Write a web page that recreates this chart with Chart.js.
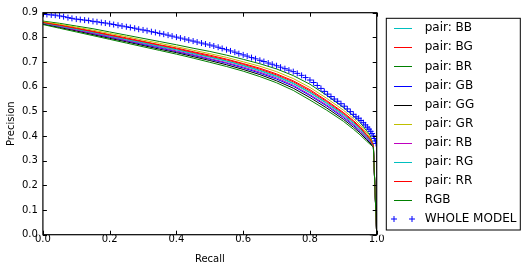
<!DOCTYPE html>
<html>
<head>
<meta charset="utf-8">
<script src="https://cdn.jsdelivr.net/npm/chart.js@4.4.1/dist/chart.umd.min.js"></script>
<style>
html,body{margin:0;padding:0;background:#fff;}
#wrap{width:524px;height:271px;}
</style>
</head>
<body>
<div id="wrap"><canvas id="c" width="524" height="271"></canvas></div>
<script>
// ---- data ----
const xTicks = [0.0, 0.2, 0.4, 0.6, 0.8, 1.0];
const yTicks = [0.0, 0.1, 0.2, 0.3, 0.4, 0.5, 0.6, 0.7, 0.8, 0.9];

const recall = [0, .05, .1, .15, .2, .25, .3, .35, .4, .45, .5, .55, .6, .65, .7, .75, .8, .85, .9, .93, .95, .97, .98, .99, 1.0];

const pairBB = [.859,.847,.834,.821,.807,.793,.779,.765,.751,.736,.721,.705,.687,.667,.644,.615,.578,.535,.488,.455,.430,.400,.385,.360,0];
const pairBG = [.861,.850,.838,.825,.811,.798,.784,.770,.757,.742,.728,.712,.694,.675,.652,.624,.588,.544,.496,.463,.438,.406,.390,.362,0];
const pairBR = [.866,.857,.846,.835,.822,.809,.796,.783,.770,.756,.743,.728,.711,.693,.672,.645,.610,.565,.516,.482,.455,.421,.403,.365,0];
const pairGB = [.856,.843,.829,.815,.800,.786,.771,.757,.742,.727,.711,.695,.676,.655,.631,.602,.564,.522,.475,.443,.419,.391,.377,.358,0];
const pairGG = [.854,.840,.826,.811,.796,.782,.767,.752,.738,.722,.706,.689,.670,.649,.624,.594,.556,.514,.468,.436,.413,.385,.372,.357,0];
const pairGR = [.863,.853,.841,.829,.816,.803,.789,.776,.762,.748,.734,.719,.701,.683,.661,.633,.597,.553,.505,.471,.445,.413,.396,.363,0];
const pairRB = [.857,.844,.830,.817,.803,.788,.774,.760,.745,.730,.714,.698,.680,.659,.636,.606,.568,.526,.480,.447,.423,.394,.380,.358,0];
const pairRG = [.858,.846,.833,.820,.806,.791,.777,.763,.749,.734,.719,.703,.685,.664,.641,.612,.575,.532,.485,.452,.428,.398,.383,.360,0];
const pairRR = [.860,.849,.836,.823,.809,.795,.782,.768,.754,.739,.724,.709,.691,.671,.648,.620,.583,.540,.492,.459,.434,.403,.388,.361,0];
const rgb    = [.852,.837,.822,.807,.792,.777,.762,.747,.732,.716,.699,.682,.663,.641,.616,.585,.546,.505,.460,.428,.405,.379,.367,.355,0];

const wholeRecall = [0.000,0.012,0.025,0.037,0.050,0.062,0.075,0.087,0.100,0.112,0.125,0.137,0.150,0.162,0.175,0.187,0.200,0.212,0.225,0.237,0.250,0.262,0.275,0.287,0.300,0.312,0.325,0.337,0.350,0.362,0.375,0.387,0.400,0.412,0.425,0.437,0.450,0.462,0.475,0.487,0.500,0.512,0.525,0.537,0.550,0.562,0.575,0.587,0.600,0.612,0.625,0.637,0.650,0.662,0.675,0.687,0.700,0.712,0.725,0.737,0.750,0.762,0.775,0.787,0.800,0.811,0.822,0.833,0.843,0.853,0.863,0.873,0.883,0.893,0.903,0.912,0.921,0.930,0.938,0.946,0.953,0.960,0.966,0.972,0.977,0.982,0.986,0.990,0.993,0.996,0.998];
const wholePrec   = [.893,.893,.891,.890,.887,.884,.880,.877,.874,.872,.870,.868,.865,.863,.860,.858,.855,.852,.849,.846,.843,.840,.837,.833,.830,.827,.823,.820,.816,.813,.809,.805,.801,.797,.793,.789,.785,.781,.777,.773,.769,.765,.760,.755,.750,.745,.740,.734,.729,.724,.718,.713,.707,.702,.696,.691,.685,.679,.673,.667,.661,.654,.646,.637,.627,.617,.605,.593,.581,.570,.560,.550,.541,.531,.521,.510,.499,.488,.478,.472,.463,.454,.445,.436,.428,.419,.410,.400,.390,.380,.370];

const seriesNames  = ['pair: BB','pair: BG','pair: BR','pair: GB','pair: GG','pair: GR','pair: RB','pair: RG','pair: RR','RGB'];
const seriesValues = [pairBB, pairBG, pairBR, pairGB, pairGG, pairGR, pairRB, pairRG, pairRR, rgb];
const seriesColors = ['#00bfbf','#ff0000','#008000','#0000ff','#000000','#bfbf00','#bf00bf','#00bfbf','#ff0000','#008000'];
const wholeName = 'WHOLE MODEL';
const wholeColor = '#0000ff';

// ---- build chart ----
const FONT = "'DejaVu Sans', sans-serif";
const datasets = seriesValues.map((vals, i) => ({
  label: seriesNames[i],
  data: recall.map((r, j) => ({x: r, y: vals[j]})),
  borderColor: seriesColors[i],
  backgroundColor: seriesColors[i],
  borderWidth: 1,
  pointRadius: 0,
  fill: false,
  tension: 0,
  order: 20 - i
}));
datasets.push({
  label: wholeName,
  data: wholeRecall.map((r, j) => ({x: r, y: wholePrec[j]})),
  showLine: false,
  pointStyle: 'cross',
  pointRadius: 3,
  pointBorderWidth: 1,
  borderColor: wholeColor,
  backgroundColor: wholeColor,
  order: 1
});

const framePlugin = {
  id: 'frame',
  afterDatasetsDraw(chart) {
    const {ctx, chartArea: a, scales: {x, y}} = chart;
    ctx.save();
    ctx.strokeStyle = '#000';
    ctx.lineWidth = 1;
    ctx.beginPath();
    xTicks.forEach(v => {
      const px = Math.round(x.getPixelForValue(v)) + 0.5;
      ctx.moveTo(px, a.bottom); ctx.lineTo(px, a.bottom - 4);
      ctx.moveTo(px, a.top); ctx.lineTo(px, a.top + 4);
    });
    yTicks.forEach(v => {
      const py = Math.round(y.getPixelForValue(v)) + 0.5;
      ctx.moveTo(a.left, py); ctx.lineTo(a.left + 4, py);
      ctx.moveTo(a.right, py); ctx.lineTo(a.right - 4, py);
    });
    ctx.stroke();
    ctx.lineWidth = 1.2;
    ctx.strokeRect(a.left, a.top, a.right - a.left, a.bottom - a.top);
    ctx.restore();
  },
  afterDraw(chart) {
    const ctx = chart.ctx;
    const bx = 386.3, by = 18.3, bw = 134, bh = 211.7;
    ctx.save();
    ctx.fillStyle = '#fff';
    ctx.fillRect(bx, by, bw, bh);
    ctx.strokeStyle = '#000';
    ctx.lineWidth = 1;
    ctx.strokeRect(bx, by, bw, bh);
    ctx.font = '12px ' + FONT;
    ctx.textBaseline = 'middle';
    ctx.textAlign = 'left';
    chart.data.datasets.forEach((ds, i) => {
      const yy = 28.3 + i * 19.07;
      if (ds.showLine === false) {
        ctx.strokeStyle = ds.borderColor;
        ctx.lineWidth = 1;
        [394, 412].forEach(cx => {
          ctx.beginPath();
          ctx.moveTo(cx - 3, yy); ctx.lineTo(cx + 3, yy);
          ctx.moveTo(cx, yy - 3); ctx.lineTo(cx, yy + 3);
          ctx.stroke();
        });
      } else {
        ctx.strokeStyle = ds.borderColor;
        ctx.lineWidth = 1;
        ctx.beginPath();
        ctx.moveTo(394, Math.round(yy) + 0.5);
        ctx.lineTo(412, Math.round(yy) + 0.5);
        ctx.stroke();
      }
      ctx.fillStyle = '#000';
      ctx.fillText(ds.label, 424.7, yy);
    });
    ctx.restore();
  }
};

new Chart(document.getElementById('c'), {
  type: 'line',
  data: {datasets},
  options: {
    responsive: false,
    animation: false,
    devicePixelRatio: 1,
    layout: {padding: {left: 5, right: 147.3, top: 12.7, bottom: 5.5}},
    plugins: {legend: {display: false}, tooltip: {enabled: false}},
    scales: {
      x: {
        type: 'linear', min: 0, max: 1,
        afterBuildTicks: s => { s.ticks = xTicks.map(v => ({value: v})); },
        ticks: {padding: -1.5, color: '#000', font: {family: FONT, size: 10}, maxRotation: 0,
                callback: v => v.toFixed(1)},
        grid: {display: false, drawTicks: false},
        border: {display: false},
        title: {display: true, text: 'Recall', color: '#000', font: {family: FONT, size: 10},
                padding: {top: 9.3, bottom: 0.5}}
      },
      y: {
        type: 'linear', min: 0, max: 0.9,
        afterBuildTicks: s => { s.ticks = yTicks.map(v => ({value: v})); },
        ticks: {padding: 5, color: '#000', font: {family: FONT, size: 10},
                callback: v => v.toFixed(1)},
        grid: {display: false, drawTicks: false},
        border: {display: false},
        title: {display: true, text: 'Precision', color: '#000', font: {family: FONT, size: 10},
                padding: {top: 0, bottom: 0}}
      }
    }
  },
  plugins: [framePlugin]
});
</script>
</body>
</html>
